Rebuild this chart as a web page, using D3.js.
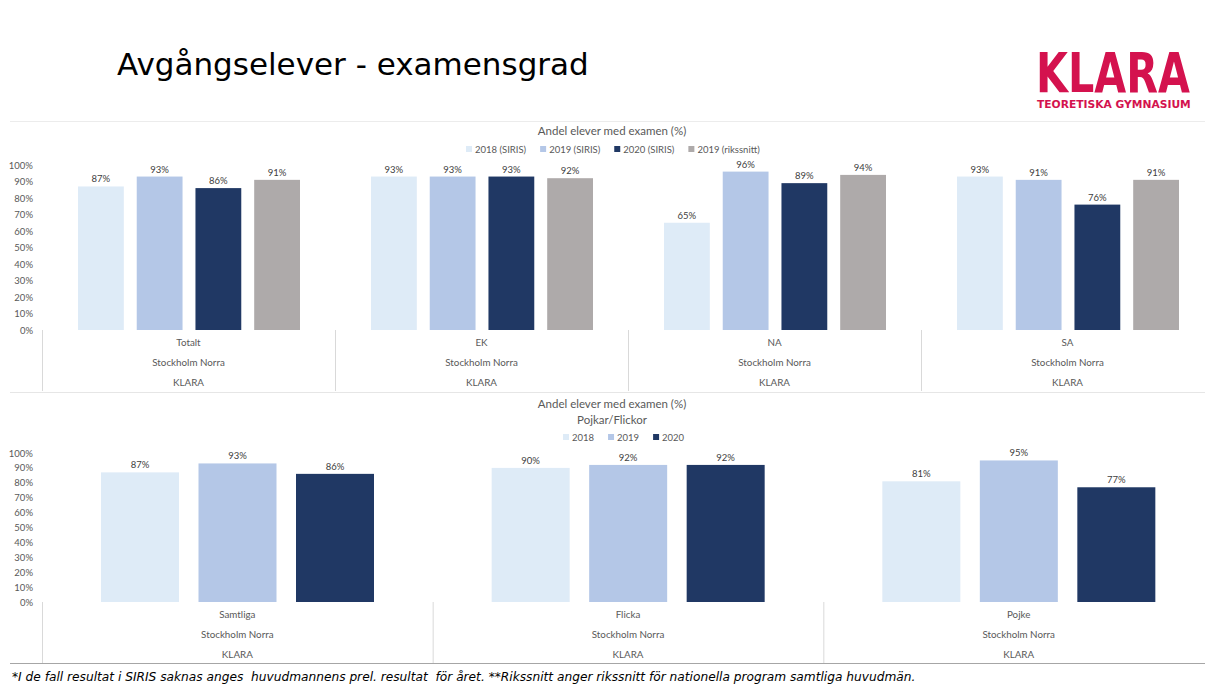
<!DOCTYPE html>
<html><head><meta charset="utf-8">
<script src="https://cdn.jsdelivr.net/npm/d3@7"></script>
<style>body{margin:0;background:#fff;} svg{display:block;}</style>
</head><body>
<svg id="c" width="1206" height="686"></svg>
<script>
// ---- data ----
const topCategories = ["Totalt", "EK", "NA", "SA"];
const topSeries = ["2018 (SIRIS)", "2019 (SIRIS)", "2020 (SIRIS)", "2019 (rikssnitt)"];
const topValues2018 = [87, 93, 65, 93];
const topValues2019 = [93, 93, 96, 91];
const topValues2020 = [86, 93, 89, 76];
const topValuesRiks = [91, 92, 94, 91];

const bottomCategories = ["Samtliga", "Flicka", "Pojke"];
const bottomSeries = ["2018", "2019", "2020"];
const bottomValues2018 = [87, 90, 81];
const bottomValues2019 = [93, 92, 95];
const bottomValues2020 = [86, 92, 77];

const level2Label = "Stockholm Norra";
const level3Label = "KLARA";
const yTicks = [0, 10, 20, 30, 40, 50, 60, 70, 80, 90, 100];

const colors = ["#deebf7", "#b4c7e7", "#203864", "#aeaaaa"];

const svg = d3.select("#c");
const font = "Lato, 'Open Sans', sans-serif";
const txt = "#595959";

// ---- header ----
svg.append("text").attr("x", 117).attr("y", 75)
  .attr("font-family", "'DejaVu Sans', sans-serif").attr("font-size", 31)
  .attr("fill", "#000").text("Avgångselever - examensgrad");

function fitText(x, y, size, width, str) {
  const t = svg.append("text").attr("x", 0).attr("y", 0)
    .attr("font-family", "'DejaVu Sans', sans-serif").attr("font-weight", "bold")
    .attr("font-size", size).attr("fill", "#d4124e").text(str);
  const w = t.node().getComputedTextLength();
  t.attr("transform", `translate(${x},${y}) scale(${width / w},1)`);
}
fitText(1036, 92, 56, 154, "KLARA");
fitText(1037, 107.5, 11, 154, "TEORETISKA GYMNASIUM");

// frame lines
svg.append("line").attr("x1", 10).attr("x2", 1205).attr("y1", 121.5).attr("y2", 121.5).attr("stroke", "#ececec");
svg.append("line").attr("x1", 10).attr("x2", 1205).attr("y1", 392.5).attr("y2", 392.5).attr("stroke", "#e6e6e6");
svg.append("line").attr("x1", 10).attr("x2", 1205).attr("y1", 663.5).attr("y2", 663.5).attr("stroke", "#a6a6a6").attr("stroke-width", 1.2);

function drawChart(opt) {
  const g = svg.append("g");
  const y = d3.scaleLinear().domain([0, 100]).range([opt.y0, opt.y100]);
  const x0 = d3.scaleBand().domain(opt.categories).range([42, 1214]).padding(0);
  const x1 = d3.scaleBand().domain(opt.series).range(opt.innerRange).paddingInner(opt.pad).paddingOuter(0);

  const yAxis = d3.axisLeft(y).tickValues(yTicks).tickFormat(d => d + "%").tickSize(0).tickPadding(0);
  const ya = g.append("g").attr("transform", "translate(33,0)").call(yAxis);
  ya.select(".domain").remove();
  ya.selectAll("text").attr("font-family", font).attr("font-size", 9.5).attr("fill", txt);

  opt.categories.forEach((c, ci) => {
    opt.series.forEach((s, si) => {
      const v = opt.values[si][ci];
      const bx = x0(c) + x1(s);
      g.append("rect").attr("x", bx).attr("y", y(v)).attr("width", x1.bandwidth())
        .attr("height", y(0) - y(v)).attr("fill", colors[si]);
      g.append("text").attr("x", bx + x1.bandwidth() / 2).attr("y", y(v) - 4)
        .attr("text-anchor", "middle").attr("font-family", font).attr("font-size", 9.5)
        .attr("fill", "#404040").text(v + "%");
    });
  });

  const edges = opt.categories.map(c => x0(c));
  edges.forEach(ex => {
    g.append("line").attr("x1", ex + 0.5).attr("x2", ex + 0.5).attr("y1", opt.y0).attr("y2", opt.axisBottom)
      .attr("stroke", "#d9d9d9");
  });
  opt.categories.forEach(c => {
    const cx = x0(c) + x0.bandwidth() / 2;
    [c, level2Label, level3Label].forEach((t, k) => {
      g.append("text").attr("x", cx).attr("y", opt.y0 + 16 + k * 20).attr("text-anchor", "middle")
        .attr("font-family", font).attr("font-size", 9.8).attr("fill", txt).text(t);
    });
  });

  opt.titles.forEach((t, k) => {
    g.append("text").attr("x", 612).attr("y", opt.titleY + k * 16).attr("text-anchor", "middle")
      .attr("font-family", font).attr("font-size", 11.5).attr("fill", txt).text(t);
  });

  const lg = g.append("g");
  let lx = opt.legendX;
  opt.series.forEach((s, si) => {
    lg.append("rect").attr("x", lx).attr("y", opt.legendY - 7).attr("width", 6).attr("height", 6).attr("fill", colors[si]);
    const t = lg.append("text").attr("x", lx + 9).attr("y", opt.legendY).attr("font-family", font)
      .attr("font-size", 9.5).attr("fill", txt).text(s);
    lx += 9 + t.node().getComputedTextLength() + 14;
  });
}

drawChart({
  categories: topCategories, series: topSeries,
  values: [topValues2018, topValues2019, topValues2020, topValuesRiks],
  y0: 330, y100: 165, innerRange: [36, 258], pad: 0.22, axisBottom: 391,
  titles: ["Andel elever med examen (%)"], titleY: 135, legendX: 466, legendY: 153
});

drawChart({
  categories: bottomCategories, series: bottomSeries,
  values: [bottomValues2018, bottomValues2019, bottomValues2020],
  y0: 602, y100: 453, innerRange: [59, 332], pad: 0.2, axisBottom: 663,
  titles: ["Andel elever med examen (%)", "Pojkar/Flickor"], titleY: 408, legendX: 563, legendY: 441
});

// footer
svg.append("text").attr("x", 12).attr("y", 681).style("white-space", "pre")
  .attr("font-family", "'DejaVu Sans', sans-serif").attr("font-style", "italic").attr("font-size", 12.2)
  .attr("fill", "#000")
  .text("*I de fall resultat i SIRIS saknas anges  huvudmannens prel. resultat  för året. **Rikssnitt anger rikssnitt för nationella program samtliga huvudmän.");
</script>
</body></html>
